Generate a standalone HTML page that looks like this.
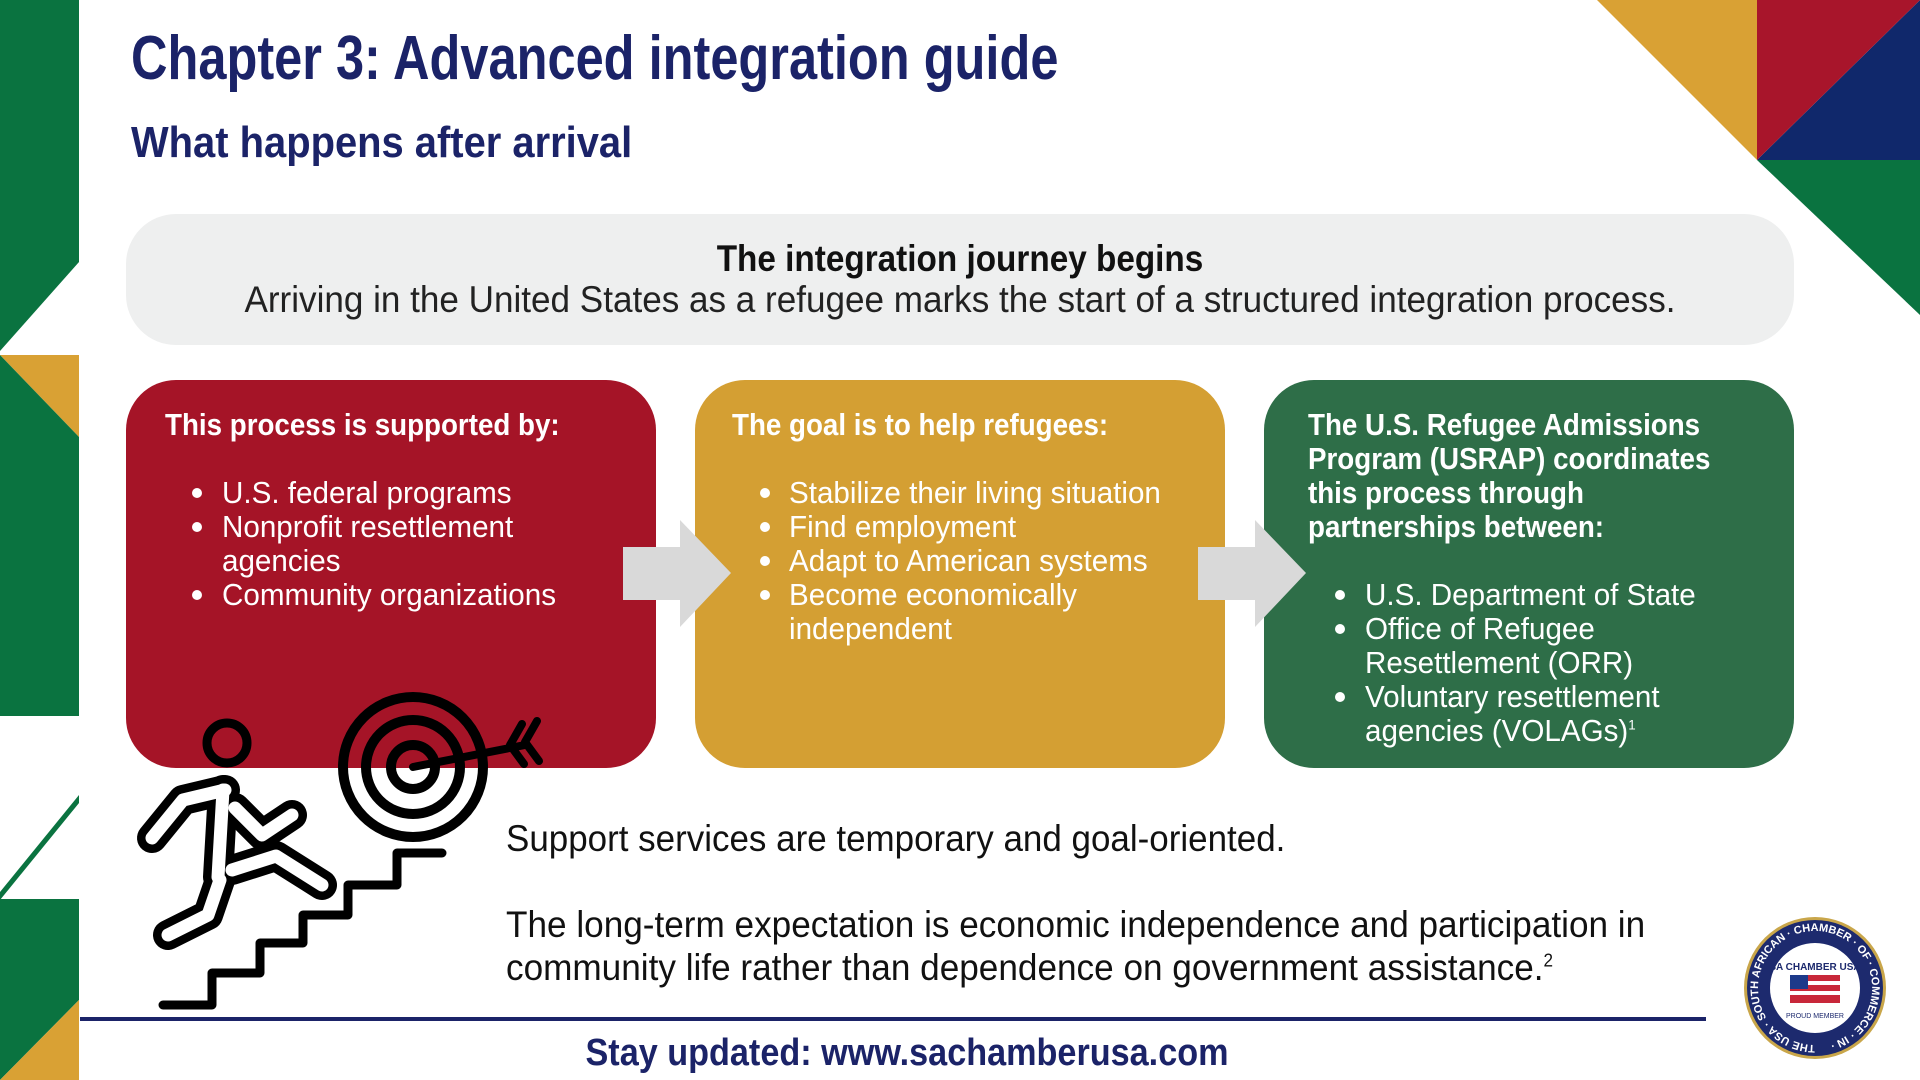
<!DOCTYPE html>
<html><head><meta charset="utf-8"><style>
*{margin:0;padding:0;box-sizing:border-box}
body{width:1920px;height:1080px;position:relative;overflow:hidden;background:#fff;font-family:"Liberation Sans",sans-serif}
.a{position:absolute;white-space:nowrap;transform-origin:0 0}
.navy{color:#1b2368}
.box{position:absolute;top:380px;height:388px;width:530px;border-radius:50px}
.h{font-weight:bold;color:#fff;font-size:31px;line-height:34px;transform:scaleX(0.895)}
.b{color:#fff;font-size:31px;line-height:34px;transform:scaleX(0.955)}
.dot{position:absolute;width:10px;height:10px;border-radius:50%;background:#fff}
sup{line-height:0;vertical-align:super}
</style></head><body>
<svg class="a" style="left:0;top:0" width="1920" height="1080">
<polygon points="0,0 79,0 79,262 0,351" fill="#0a7340"/>
<polygon points="0,355 79,355 79,437" fill="#d9a134"/>
<polygon points="0,355 79,437 79,716 0,716" fill="#0a7340"/>
<polygon points="79,795 79,803 0,900 0,892" fill="#0a7340"/>
<polygon points="0,899 79,899 79,1000 0,1080" fill="#0a7340"/>
<polygon points="79,1000 79,1080 0,1080" fill="#d9a134"/>
<polygon points="1597,0 1757,0 1757,160" fill="#d9a134"/>
<polygon points="1920,0 1920,160 1757,160" fill="#10286b"/>
<polygon points="1757,0 1920,0 1757,160" fill="#a8152b"/>
<polygon points="1757,160 1920,160 1920,315" fill="#0a7340"/>
<rect x="126" y="214" width="1668" height="131" rx="50" fill="#eeefef"/>
<rect x="80" y="1017" width="1626" height="4" fill="#1b2368"/>
</svg>
<div class="box" style="left:126px;background:#a51427"></div>
<div class="box" style="left:695px;background:#d49f33"></div>
<div class="box" style="left:1264px;background:#2e6e48"></div>
<svg class="a" style="left:0;top:0" width="1920" height="1080">
<polygon points="623,547 680,547 680,520 731,573 680,627 680,600 623,600" fill="#d9d9d9"/>
<polygon points="1198,547 1255,547 1255,520 1306,573 1255,627 1255,600 1198,600" fill="#d9d9d9"/>
<g fill="none" stroke="#000" stroke-linecap="round" stroke-linejoin="round">
<circle cx="227" cy="743" r="20" stroke-width="9"/>
<g stroke-width="30">
<polyline points="225,790 183,800 152,838"/>
<polyline points="235,808 262,835 292,815"/>
<polyline points="223,790 218,877"/>
<polyline points="232,870 276,856 322,885"/>
<polyline points="220,880 208,915 168,935"/>
</g>
<g stroke="#fff" stroke-width="13">
<polyline points="225,790 183,800 152,838"/>
<polyline points="235,808 262,835 292,815"/>
<polyline points="223,790 218,877"/>
<polyline points="232,870 276,856 322,885"/>
<polyline points="220,880 208,915 168,935"/>
</g>
<polyline stroke-width="9" points="163,1005 212,1005 212,973 260,973 260,943 303,943 303,915 348,915 348,885 397,885 397,853 442,853"/>
<circle cx="413" cy="767" r="70" stroke-width="10"/>
<circle cx="413" cy="767" r="47" stroke-width="10"/>
<circle cx="413" cy="767" r="22" stroke-width="10"/>
<line x1="413" y1="767" x2="525" y2="745" stroke-width="8"/>
<polyline points="522,724 510,745 524,764" stroke-width="8"/>
<polyline points="537,721 525,742 539,761" stroke-width="8"/>
</g>
<circle cx="1815" cy="988" r="71" fill="#c9a64a"/>
<circle cx="1815" cy="988" r="68" fill="#1d2a6e"/>
<circle cx="1815" cy="988" r="45" fill="#fff"/>
<defs><path id="rp" d="M1815,1045 a57,57 0 1,1 0.1,0"/></defs>
<text font-family="Liberation Sans" font-weight="bold" font-size="11" fill="#fff"><textPath href="#rp">THE USA · SOUTH AFRICAN · CHAMBER · OF · COMMERCE · IN ·</textPath></text>
<rect x="1790" y="975" width="50" height="28" fill="#c8283a"/>
<rect x="1790" y="981" width="50" height="4" fill="#fff"/><rect x="1790" y="991" width="50" height="4" fill="#fff"/>
<rect x="1790" y="975" width="18" height="14" fill="#1d3a8a"/>
<text x="1815" y="970" text-anchor="middle" font-family="Liberation Sans" font-weight="bold" font-size="10" fill="#1d2a6e">SA CHAMBER USA</text>
<text x="1815" y="1018" text-anchor="middle" font-family="Liberation Sans" font-size="7" fill="#1d2a6e">PROUD MEMBER</text>
</svg>

<div class="a navy" style="left:131px;top:24px;font-size:62px;font-weight:bold;line-height:70px;transform:scaleX(0.815)">Chapter 3: Advanced integration guide</div>
<div class="a navy" style="left:131px;top:118px;font-size:44px;font-weight:bold;line-height:50px;transform:scaleX(0.907)">What happens after arrival</div>

<div class="a" style="left:126px;width:1668px;top:238px;text-align:center;font-size:37px;font-weight:bold;line-height:42px;color:#111;transform-origin:center;transform:scaleX(0.9)">The integration journey begins</div>
<div class="a" style="left:126px;width:1668px;top:279px;text-align:center;font-size:37px;line-height:42px;color:#222;transform-origin:center;transform:scaleX(0.948)">Arriving in the United States as a refugee marks the start of a structured integration process.</div>

<div class="a h" style="left:165px;top:408px">This process is supported by:</div>
<div class="dot" style="left:192px;top:488px"></div><div class="dot" style="left:192px;top:522px"></div><div class="dot" style="left:192px;top:590px"></div>
<div class="a b" style="left:222px;top:476px">U.S. federal programs<br>Nonprofit resettlement<br>agencies<br>Community organizations</div>

<div class="a h" style="left:732px;top:408px">The goal is to help refugees:</div>
<div class="dot" style="left:760px;top:488px"></div><div class="dot" style="left:760px;top:522px"></div><div class="dot" style="left:760px;top:556px"></div><div class="dot" style="left:760px;top:590px"></div>
<div class="a b" style="left:789px;top:476px">Stabilize their living situation<br>Find employment<br>Adapt to American systems<br>Become economically<br>independent</div>

<div class="a h" style="left:1308px;top:408px">The U.S. Refugee Admissions<br>Program (USRAP) coordinates<br>this process through<br>partnerships between:</div>
<div class="dot" style="left:1335px;top:590px"></div><div class="dot" style="left:1335px;top:624px"></div><div class="dot" style="left:1335px;top:692px"></div>
<div class="a b" style="left:1365px;top:578px">U.S. Department of State<br>Office of Refugee<br>Resettlement (ORR)<br>Voluntary resettlement<br>agencies (VOLAGs)<sup style="font-size:14px">1</sup></div>

<div class="a" style="left:506px;top:818px;font-size:37px;line-height:42px;color:#111;transform:scaleX(0.945)">Support services are temporary and goal-oriented.</div>
<div class="a" style="left:506px;top:903px;font-size:37px;line-height:43px;color:#111;transform:scaleX(0.95)">The long-term expectation is economic independence and participation in<br>community life rather than dependence on government assistance.<sup style="font-size:18px">2</sup></div>

<div class="a navy" style="left:0;width:1814px;top:1031px;text-align:center;font-size:38px;font-weight:bold;line-height:44px;transform-origin:center;transform:scaleX(0.9)">Stay updated: www.sachamberusa.com</div>
</body></html>
